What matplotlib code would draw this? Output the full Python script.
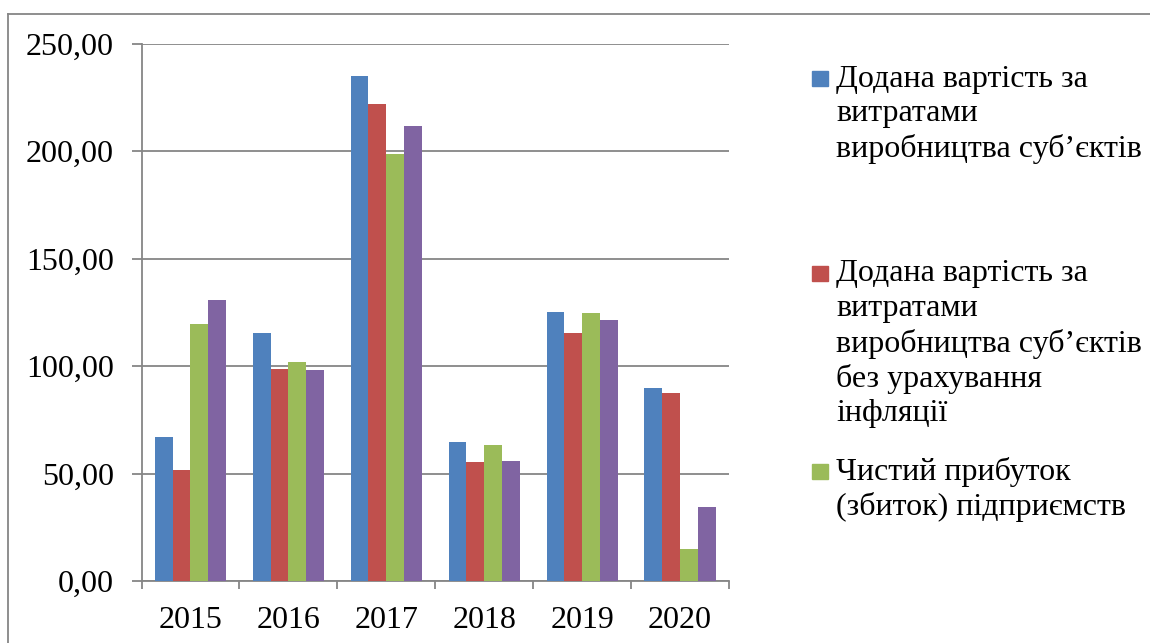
import numpy as np
import matplotlib.pyplot as plt
import matplotlib.ticker as ticker
from matplotlib.lines import Line2D
from matplotlib.patches import Rectangle

# data
years = ['2015', '2016', '2017', '2018', '2019', '2020']
added_value = [67.0, 115.3, 235.1, 64.8, 124.9, 89.9]
added_value_no_infl = [51.6, 98.7, 221.9, 55.5, 115.5, 87.6]
net_profit = [119.4, 101.8, 198.4, 63.1, 124.5, 14.7]
fourth_series = [130.6, 98.1, 211.4, 55.7, 121.5, 34.6]

colors = ['#4F81BD', '#C0504D', '#9BBB59', '#8064A2']
legend_lines = [
    ['Додана вартість за', 'витратами', 'виробництва суб’єктів'],
    ['Додана вартість за', 'витратами', 'виробництва суб’єктів',
     'без урахування', 'інфляції'],
    ['Чистий прибуток', '(збиток) підприємств'],
]

plt.rcParams.update({
    'font.family': ['Liberation Serif', 'DejaVu Serif'],
    'font.size': 23,
})

W, H = 1150, 643
fig = plt.figure(figsize=(W / 100, H / 100), dpi=100)
ax = fig.add_axes([141.5 / W, 1 - 581 / H, (729 - 141.5) / W, (581 - 43.5) / H])

grey = '#868686'
series = [added_value, added_value_no_infl, net_profit, fourth_series]
x = np.arange(len(years))
bw = 1 / 5.5
for j, vals in enumerate(series):
    ax.bar(x + (j - 1.5) * bw, vals, width=bw, color=colors[j], zorder=3)

ax.set_xlim(-0.5, len(years) - 0.5)
ax.set_ylim(0, 250)
ax.yaxis.set_major_locator(ticker.MultipleLocator(50))
ax.yaxis.set_major_formatter(
    ticker.FuncFormatter(lambda v, p: f'{v:.2f}'.replace('.', ',')))
ax.grid(axis='y', color=grey, linewidth=1.3, zorder=1)

ax.set_xticks(x)
ax.set_xticklabels(years)
ax.set_xticks(np.arange(len(years) + 1) - 0.5, minor=True)
ax.tick_params(axis='x', which='major', length=0, pad=18)
ax.tick_params(axis='x', which='minor', length=6, width=1.3, color=grey)
ax.tick_params(axis='y', length=7, width=1.3, color=grey, pad=13)

for s in ['top', 'right']:
    ax.spines[s].set_visible(False)
for s in ['left', 'bottom']:
    ax.spines[s].set_color(grey)
    ax.spines[s].set_linewidth(1.3)

# chart frame (left and top edges visible)
fig.add_artist(Line2D([8 / W, 8 / W], [0, 1 - 14 / H], color=grey, lw=1.3))
fig.add_artist(Line2D([8 / W, 1], [1 - 14 / H, 1 - 14 / H], color=grey, lw=1.3))

# legend, laid out like the Excel one
entry_tops = [79, 274, 472]
line_step = 35
for k, lines in enumerate(legend_lines):
    y0 = entry_tops[k]
    fig.add_artist(Rectangle((812 / W, 1 - (y0 + 7) / H), 16 / W, 15 / H,
                             color=colors[k], transform=fig.transFigure))
    for i, ln in enumerate(lines):
        fig.text(836 / W, 1 - (y0 + i * line_step) / H, ln,
                 ha='left', va='center', fontsize=23)

fig.savefig('out.png', dpi=100, facecolor='white')
